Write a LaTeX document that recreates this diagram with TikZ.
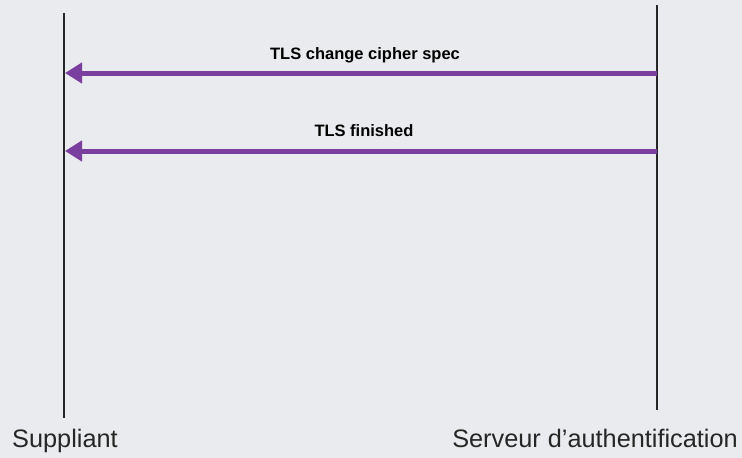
\documentclass[tikz,border=0pt]{standalone}
\usepackage{fontspec}
\setmainfont{Liberation Sans}
\usepackage{xcolor}
\usetikzlibrary{arrows.meta, positioning}
\definecolor{msgpurple}{HTML}{7A3E9E}
\definecolor{slidebg}{HTML}{E9EBEE}
\tikzset{
  actor/.style={font=\fontsize{25.3}{28}\selectfont, inner sep=0pt, text=black!85},
  lifeline/.style={line width=1.6pt, black!85},
  msg/.style={-{Triangle[length=17pt, width=20pt]}, line width=5pt, msgpurple},
  msglbl/.style={font=\fontsize{16.5}{18}\selectfont\bfseries, inner sep=0pt},
}

\begin{document}
\begin{tikzpicture}[x=1pt, y=-1pt]
\fill[slidebg] (0,0) rectangle (742,458);
\useasboundingbox (0,0) rectangle (742,458);
% actors
\node[actor, anchor=base west] (supp) at (12,447) {Suppliant};
\node[actor, anchor=base east] (serv) at (738,447) {Serveur d'authentification};
\coordinate (supptop) at (64,13);
\coordinate (suppbot) at (64,418);
\coordinate (servtop) at (657,5);
\coordinate (servbot) at (657,410);
\draw[lifeline] (supptop) -- (suppbot);
\draw[lifeline] (servtop) -- (servbot);
% messages
\coordinate (cs1) at (657,73); \coordinate (cs2) at (65,73);
\coordinate (fin1) at (657,151); \coordinate (fin2) at (65,151);
\draw[msg] (cs1) -- (cs2);
\draw[msg] (fin1) -- (fin2);
\node[msglbl, anchor=base] (cslbl) at (365,59) {TLS change cipher spec};
\node[msglbl, anchor=base] (finlbl) at (364,136) {TLS finished};
\end{tikzpicture}
\end{document}
